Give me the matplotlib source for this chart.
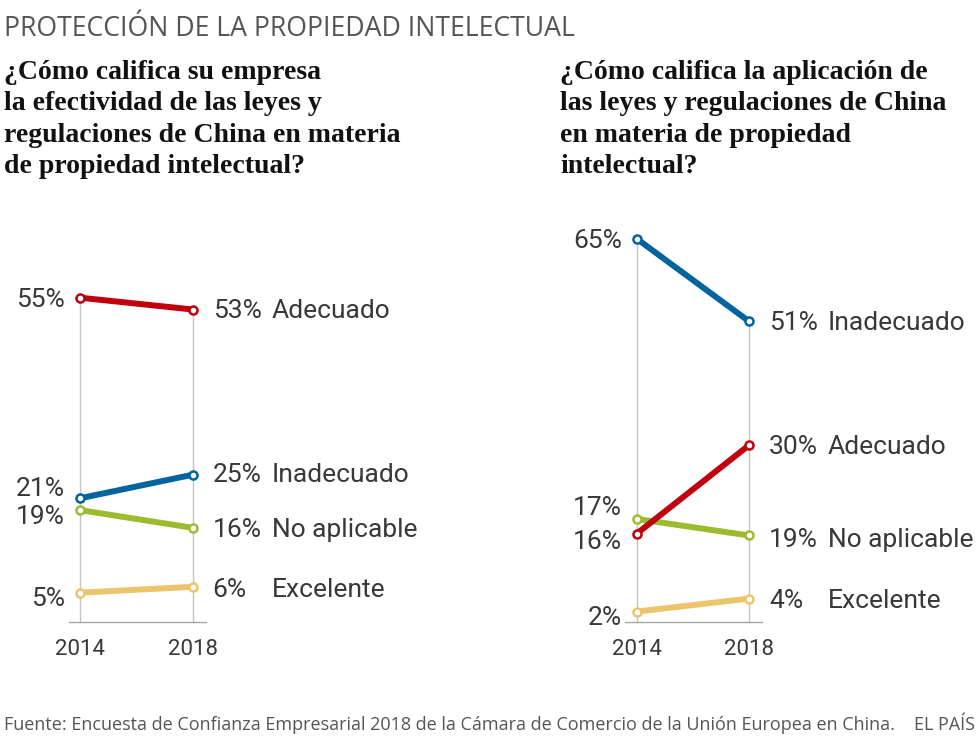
import matplotlib
matplotlib.use('Agg')
import matplotlib.pyplot as plt

# ── data ─────────────────────────────────────────────────────────────────────
years = ['2014', '2018']
series = ['Excelente', 'No aplicable', 'Inadecuado', 'Adecuado']

# left panel: efectividad de las leyes
left_values = {
    'Adecuado':     [55, 53],
    'Inadecuado':   [21, 25],
    'No aplicable': [19, 16],
    'Excelente':    [5, 6],
}
# right panel: aplicación de las leyes (positions as drawn in the original)
right_values = {
    'Inadecuado':   [65, 51],
    'Adecuado':     [15, 30],
    'No aplicable': [17.5, 14.7],
    'Excelente':    [1.8, 4],
}
# printed labels (the original prints these numbers)
right_labels = {
    'Inadecuado':   [65, 51],
    'Adecuado':     [16, 30],
    'No aplicable': [17, 19],
    'Excelente':    [2, 4],
}

title = 'PROTECCIÓN DE LA PROPIEDAD INTELECTUAL'
left_question = ('¿Cómo califica su empresa\nla efectividad de las leyes y\n'
                 'regulaciones de China en materia\nde propiedad intelectual?')
right_question = ('¿Cómo califica la aplicación de\nlas leyes y regulaciones de China\n'
                  'en materia de propiedad\nintelectual?')
source = ('Fuente: Encuesta de Confianza Empresarial 2018 de la Cámara de '
          'Comercio de la Unión Europea en China.')

# ── style ────────────────────────────────────────────────────────────────────
COLORS = {
    'Adecuado':     '#c0000f',
    'Inadecuado':   '#00659c',
    'No aplicable': '#9cbb2e',
    'Excelente':    '#ebc46c',
}
INK = '#383838'
GRID = '#c4c4c4'
SANS = ['Roboto', 'DejaVu Sans']
WIDE = ['Open Sans', 'Roboto', 'DejaVu Sans']
SERIF = ['Liberation Serif', 'DejaVu Serif']

W, H = 980, 741
PX_PER_PCT = 5.9
Y0 = 622.2  # pixel row of the 0 baseline

# label vertical positions (in % units) where the original nudges them apart
left_pos_l = {'Adecuado': 55, 'Inadecuado': 23, 'No aplicable': 18.2, 'Excelente': 4.4}
left_pos_r = {'Adecuado': 53.1, 'Inadecuado': 25.3, 'No aplicable': 16.0, 'Excelente': 5.8}
right_pos_l = {'Inadecuado': 65, 'Adecuado': 14.1, 'No aplicable': 19.7, 'Excelente': 1.2}
right_pos_r = {'Inadecuado': 51.1, 'Adecuado': 30.1, 'No aplicable': 14.4, 'Excelente': 4.1}

plt.rcParams['font.family'] = SANS

fig = plt.figure(figsize=(W / 100, H / 100), dpi=100, facecolor='white')


def px_to_fig(x, y):
    return x / W, 1 - y / H


def slope_panel(x_left, x_right, values, labels, pos_l, pos_r):
    ymax = 70
    left, bottom = px_to_fig(x_left, Y0)
    ax = fig.add_axes([left, bottom, (x_right - x_left) / W, ymax * PX_PER_PCT / H])
    ax.set_xlim(0, 1)
    ax.set_ylim(0, ymax)
    ax.axis('off')

    xs = range(len(years))
    # vertical guides from the baseline up to the highest value of each year
    for i in xs:
        top = max(v[i] for v in values.values())
        ax.plot([i, i], [0, top], color=GRID, lw=1, zorder=1, clip_on=False)
    ax.plot([-0.1, 1.12], [0, 0], color='#a8a8a8', lw=1, zorder=1, clip_on=False)

    for name in series:
        v = values[name]
        ax.plot(xs, v, color=COLORS[name], lw=4.3, solid_capstyle='round', zorder=3,
                marker='o', ms=5.8, mfc='white', mec=COLORS[name], mew=1.8,
                clip_on=False)

        ax.annotate(f'{labels[name][0]}%', (0, pos_l[name]), xytext=(-15, 0),
                    textcoords='offset pixels', ha='right', va='center_baseline',
                    fontsize=19, color=INK)
        ax.annotate(f'{labels[name][1]}%', (1, pos_r[name]), xytext=(20, 0),
                    textcoords='offset pixels', ha='left', va='center_baseline',
                    fontsize=19, color=INK)
        ax.annotate(name, (1, pos_r[name]), xytext=(79, 0),
                    textcoords='offset pixels', ha='left', va='center_baseline',
                    fontsize=19, color=INK)

    for i, yr in enumerate(years):
        ax.annotate(yr, (i, 0), xytext=(0, -25), textcoords='offset pixels',
                    ha='center', va='center_baseline', fontsize=16, color=INK)
    return ax


slope_panel(80, 192.7, left_values, left_values, left_pos_l, left_pos_r)
slope_panel(636.7, 749, right_values, right_labels, right_pos_l, right_pos_r)

# ── texts ────────────────────────────────────────────────────────────────────
fig.text(*px_to_fig(4, 25), title, ha='left', va='center_baseline', family=WIDE,
         fontsize=19.2, color='#555555')
fig.text(*px_to_fig(4, 60), left_question, ha='left', va='top', family=SERIF,
         fontweight='bold', fontsize=20, color='#111111', linespacing=1.34)
fig.text(*px_to_fig(560, 60), right_question, ha='left', va='top', family=SERIF,
         fontweight='bold', fontsize=20, color='#111111', linespacing=1.34)
fig.text(*px_to_fig(4, 723), source, ha='left', va='center_baseline', family=WIDE,
         fontsize=13, color='#555555')
fig.text(*px_to_fig(975, 723), 'EL PAÍS', ha='right', va='center_baseline',
         family=WIDE, fontsize=13, color='#555555')

fig.savefig('out.png', dpi=100, facecolor='white')
